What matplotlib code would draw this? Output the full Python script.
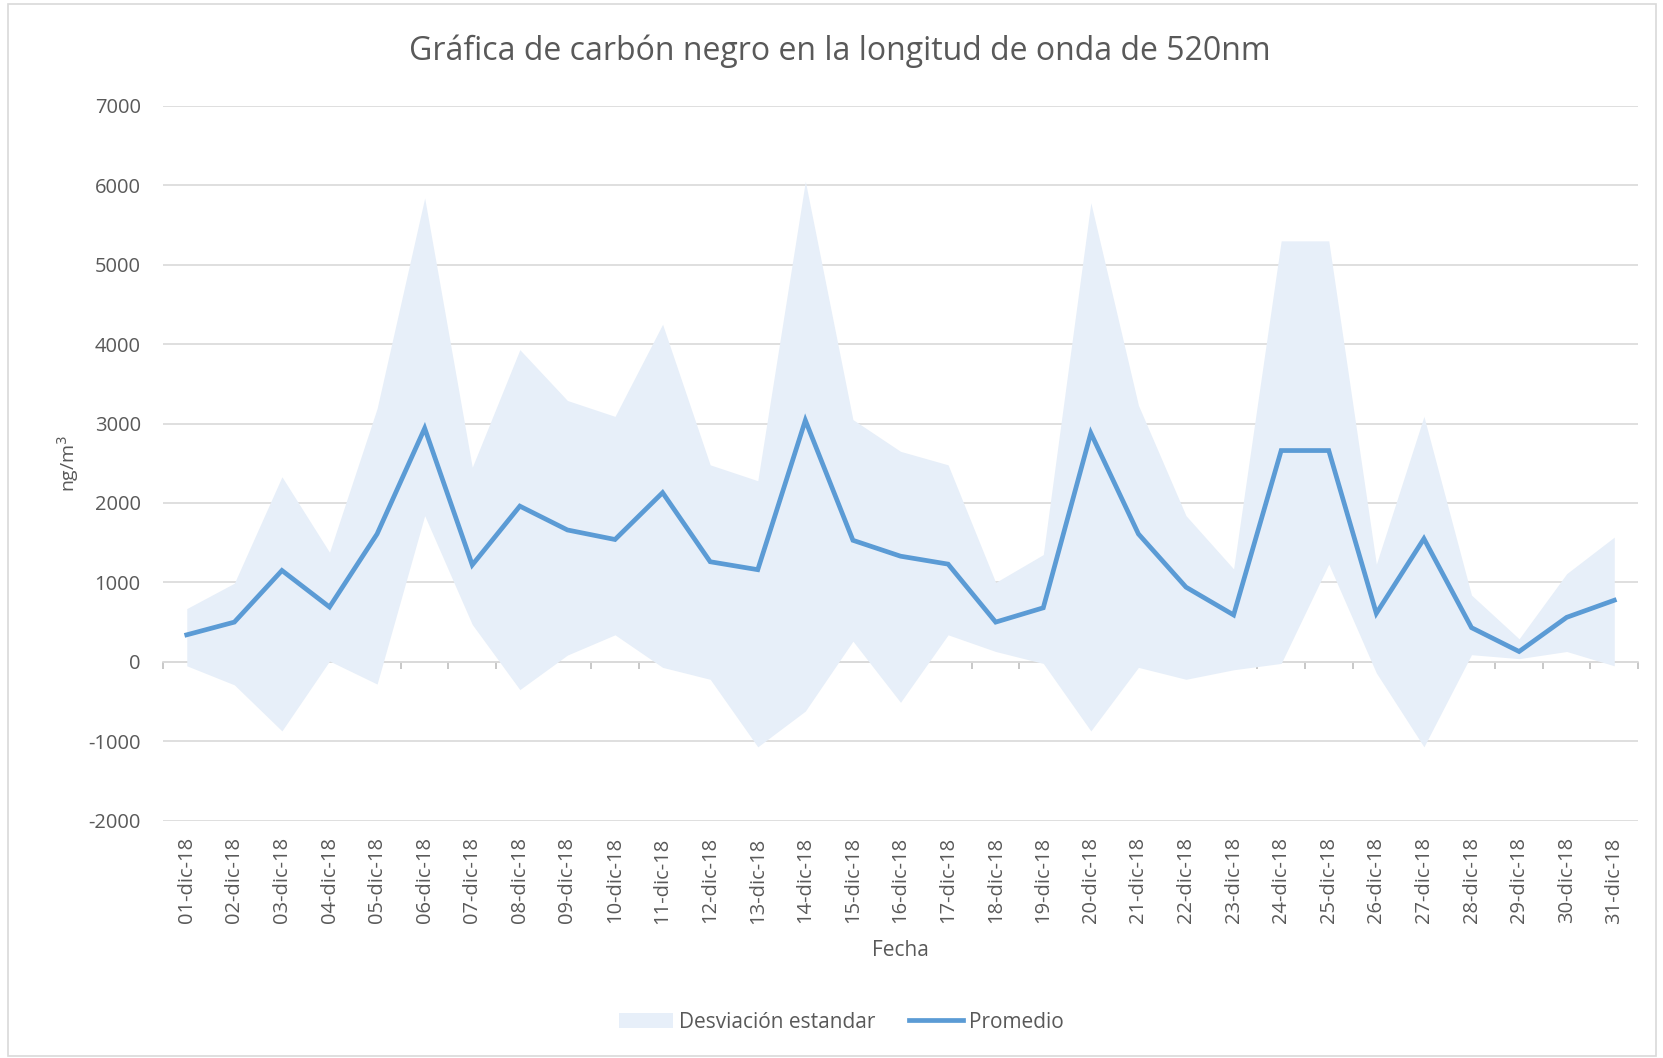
import matplotlib.pyplot as plt
from matplotlib.patches import Rectangle, Patch
from matplotlib.lines import Line2D

plt.rcParams['font.family'] = ['Open Sans', 'DejaVu Sans']
plt.rcParams['axes.unicode_minus'] = False

# Datos
fechas = ['%02d-dic-18' % d for d in range(1, 32)]
promedio = [340, 500, 1150, 690, 1610, 2940, 1220, 1960, 1660, 1540,
            2130, 1260, 1160, 3040, 1530, 1330, 1230, 500, 680, 2880,
            1610, 940, 590, 2660, 2660, 610, 1550, 430, 130, 560, 775]
superior = [670, 990, 2330, 1380, 3190, 5840, 2450, 3930, 3290, 3090,
            4250, 2480, 2280, 6050, 3050, 2650, 2480, 1000, 1350, 5780,
            3230, 1840, 1170, 5300, 5300, 1230, 3090, 840, 290, 1110, 1570]
inferior = [-50, -290, -870, 10, -280, 1840, 470, -350, 85, 340,
            -70, -220, -1070, -620, 260, -510, 340, 130, -20, -870,
            -70, -220, -100, -20, 1230, -140, -1070, 90, 40, 130, -50]

x = list(range(1, len(fechas) + 1))

fig = plt.figure(figsize=(16.63, 10.58), dpi=100)
ax = fig.add_axes([0.098, 0.2243, 0.887, 0.6757])

# borde del area del grafico
fig.patches.append(Rectangle((0.005, 0.002), 0.991, 0.994, transform=fig.transFigure,
                             fill=False, edgecolor='#d9d9d9', lw=1.2))

ax.fill_between(x, inferior, superior, color='#e7eff9', lw=0, zorder=1)
ax.plot(x, promedio, color='#5b9bd5', lw=3.4, solid_joinstyle='miter', zorder=3)

ax.set_xlim(0.5, 31.5)
ax.set_ylim(-2000, 7000)
ax.set_yticks(range(-2000, 7001, 1000))
ax.grid(axis='y', color='#d9d9d9', lw=1.2)
ax.set_axisbelow(True)
ax.tick_params(axis='y', length=0, labelsize=14.5, labelcolor='#595959', pad=16)

ax.set_xticks(x)
ax.set_xticklabels(fechas, rotation=90)
ax.tick_params(axis='x', length=0, labelsize=14.5, labelcolor='#595959', pad=12)
for s in ax.spines.values():
    s.set_visible(False)

# eje horizontal en cero con marcas entre categorias
sec = ax.secondary_xaxis(2 / 9)
sec.set_xticks([i + 0.5 for i in range(0, 32)])
sec.set_xticklabels([])
sec.tick_params(axis='x', length=5, color='#bfbfbf', width=1.2)
sec.spines['bottom'].set_color('#d9d9d9')
sec.spines['bottom'].set_linewidth(1.2)

fig.text(0.505, 0.952, 'Gráfica de carbón negro en la longitud de onda de 520nm',
         fontsize=23, color='#595959', ha='center', va='center')
ax.set_xlabel('Fecha', fontsize=15, color='#595959', labelpad=12)
ax.set_ylabel('ng/m$^3$', fontsize=14, color='#595959', labelpad=5)

handles = [Patch(facecolor='#e7eff9', edgecolor='none'),
           Line2D([0], [0], color='#5b9bd5', lw=3.4)]
fig.legend(handles, ['Desviación estandar', 'Promedio'], loc='center',
           bbox_to_anchor=(0.506, 0.034), ncol=2, frameon=False, fontsize=15,
           labelcolor='#595959', handlelength=2.6, handletextpad=0.3,
           columnspacing=1.6)

fig.savefig('out.png', dpi=100)
